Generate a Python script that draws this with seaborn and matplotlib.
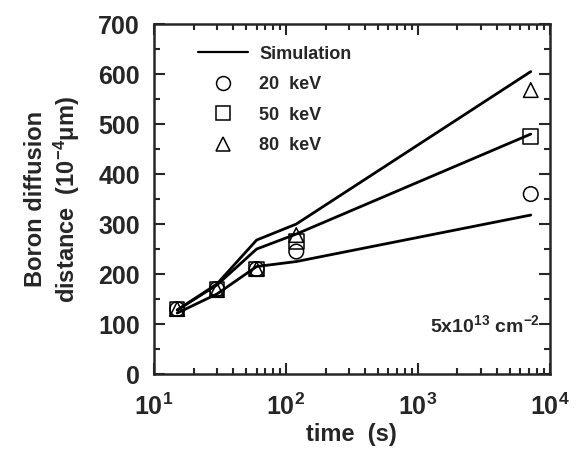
import numpy as np
import pandas as pd
import matplotlib
matplotlib.use("Agg")
import matplotlib.pyplot as plt
import seaborn as sns
from matplotlib.lines import Line2D
from matplotlib.ticker import MultipleLocator, LogLocator, NullFormatter

sns.set_theme(style="ticks")
plt.rcParams["font.family"] = ["Liberation Sans", "DejaVu Sans"]
plt.rcParams["mathtext.default"] = "regular"

# Daten
time_s = [15, 30, 60, 120, 7200]
energies = ["20 keV", "50 keV", "80 keV"]
sim_20 = [122, 160, 215, 225, 318]
sim_50 = [128, 178, 250, 280, 480]
sim_80 = [128, 180, 268, 300, 605]
exp_20 = [130, 170, 210, 245, 360]
exp_50 = [130, 170, 210, 265, 475]
exp_80 = [130, 168, 210, 278, 568]
markers = {"20 keV": "o", "50 keV": "s", "80 keV": "^"}

sim = pd.DataFrame({
    "time": time_s * 3,
    "dist": sim_20 + sim_50 + sim_80,
    "energy": np.repeat(energies, len(time_s)),
})
exp = pd.DataFrame({
    "time": time_s * 3,
    "dist": exp_20 + exp_50 + exp_80,
    "energy": np.repeat(energies, len(time_s)),
})

fig = plt.figure(figsize=(5.8, 4.55), dpi=100)
ax = fig.add_axes([0.2655, 0.178, 0.682, 0.769])

sns.lineplot(data=sim, x="time", y="dist", units="energy", estimator=None,
             color="black", lw=2.0, ax=ax, legend=False)
sns.scatterplot(data=exp, x="time", y="dist", style="energy", markers=markers,
                s=110, facecolor="none", edgecolor="black", linewidth=1.1,
                ax=ax, legend=False)

ax.set_xscale("log")
ax.set_xlim(10, 1e4)
ax.set_ylim(0, 700)
ax.yaxis.set_major_locator(MultipleLocator(100))
ax.yaxis.set_minor_locator(MultipleLocator(50))
ax.xaxis.set_major_locator(LogLocator(base=10))
ax.xaxis.set_minor_locator(LogLocator(base=10, subs=np.arange(2, 10)))
ax.xaxis.set_minor_formatter(NullFormatter())
ax.tick_params(which="both", direction="in", top=True, right=True, width=1.5)
ax.tick_params(which="major", length=8, labelsize=18)
ax.tick_params(axis="y", which="major", pad=10)
ax.tick_params(axis="x", which="major", pad=14)
ax.tick_params(which="minor", length=4)
for lab in ax.get_xticklabels() + ax.get_yticklabels():
    lab.set_fontweight("bold")
for sp in ax.spines.values():
    sp.set_linewidth(1.8)

ax.set_xlabel("time  (s)", fontsize=17, fontweight="bold", labelpad=2)
ax.set_ylabel("Boron diffusion\ndistance  (10$^{-4}$μm)", fontsize=17,
              fontweight="bold", labelpad=12)

ax.text(0.975, 0.14, "5x10$^{13}$ cm$^{-2}$", transform=ax.transAxes,
        ha="right", va="center", fontsize=14, fontweight="bold")

handles = [Line2D([], [], color="black", lw=1.6)] + [
    Line2D([], [], ls="none", marker=markers[e], mfc="none", mec="black",
           ms=10, mew=1.1) for e in energies]
labels = ["Simulation"] + [e.replace(" ", "  ") for e in energies]
ax.legend(handles, labels, loc="upper left", bbox_to_anchor=(0.07, 0.985),
          frameon=False, prop={"weight": "bold", "size": 13},
          handlelength=2.8, labelspacing=0.75, handletextpad=0.6)

plt.savefig("out.png", dpi=100)
